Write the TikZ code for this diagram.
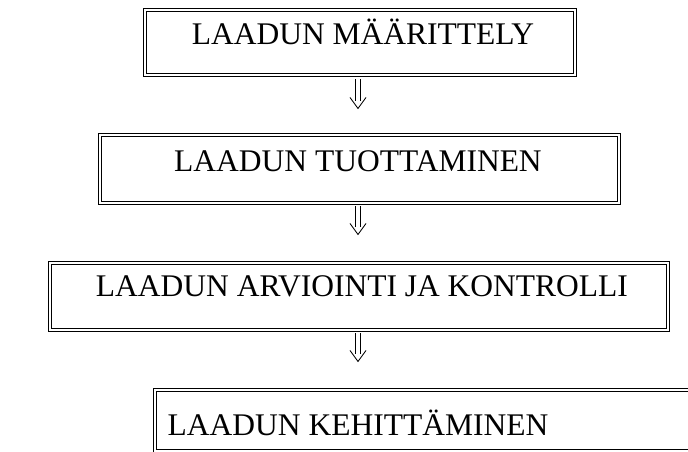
\documentclass[tikz,border=0pt]{standalone}
\usepackage{fontspec}
\setmainfont{Liberation Serif}
\usetikzlibrary{calc}
\tikzset{
  box/.style={draw=black, line width=0.95pt, double, double distance=1.8pt, inner sep=0pt, fill=none},
  txt/.style={anchor=base, inner sep=0pt, font=\fontsize{31.5}{36}\selectfont},
  stemline/.style={draw=black, line width=0.8pt},
  headline/.style={draw=black, line width=0.85pt, line join=miter},
}
\begin{document}
\begin{tikzpicture}[x=1pt, y=-1pt]
\useasboundingbox (0,0) rectangle (688,452);
\coordinate (ax) at (358,0);
% boxes
\node[box, minimum width=430pt, minimum height=65pt] (b1) at (360,42.5) {};
\node[box, minimum width=519pt, minimum height=68pt] (b2) at (359.5,169) {};
\node[box, minimum width=618pt, minimum height=67pt] (b3) at (359,296.5) {};
\node[box, minimum width=565pt, minimum height=61pt] (b4) at (437.5,420.5) {};
% texts
\node[txt] (t1) at (363,45) {LAADUN MÄÄRITTELY};
\node[txt] (t2) at (358,171) {LAADUN TUOTTAMINEN};
\node[txt] (t3) at (362,296) {LAADUN ARVIOINTI JA KONTROLLI};
\node[txt] (t4) at (358,435) {LAADUN KEHITTÄMINEN};
% arrow end points
\coordinate (a1s) at ($(b1.south -| ax)+(0,4)$);
\coordinate (a1e) at ($(b1.south -| ax)+(0,33)$);
\coordinate (a2s) at ($(b2.south -| ax)+(0,3)$);
\coordinate (a2e) at ($(b2.south -| ax)+(0,31)$);
\coordinate (a3s) at ($(b3.south -| ax)+(0,3)$);
\coordinate (a3e) at ($(b3.south -| ax)+(0,31)$);
% arrows (double stem with open head)
\foreach \i in {1,2,3} {
  \draw[stemline] ($(a\i s)+(-2.4,0)$) -- ($(a\i e)+(-2.4,-7.7)$);
  \draw[stemline] ($(a\i s)+(2.4,0)$) -- ($(a\i e)+(2.4,-7.7)$);
  \draw[headline] ($(a\i e)+(-8,-11)$) -- (a\i e) -- ($(a\i e)+(8,-11)$);
}
\end{tikzpicture}
\end{document}
